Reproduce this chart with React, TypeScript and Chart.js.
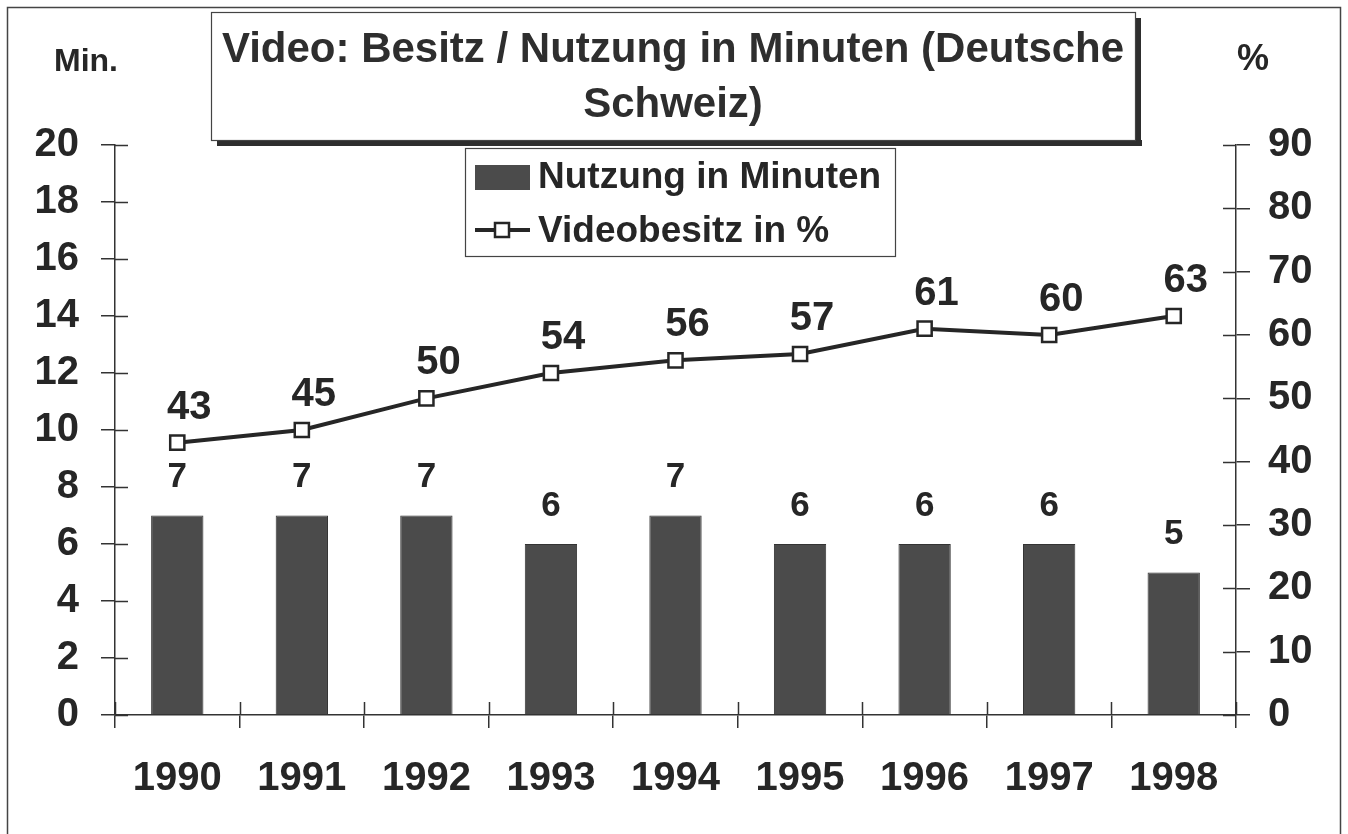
import React, { useEffect, useRef } from 'react';
import { Chart, registerables } from 'chart.js';

Chart.register(...registerables);

// ---- data ----
const years = ['1990', '1991', '1992', '1993', '1994', '1995', '1996', '1997', '1998'];
const nutzungMinuten = [7, 7, 7, 6, 7, 6, 6, 6, 5];
const videobesitzProzent = [43, 45, 50, 54, 56, 57, 61, 60, 63];
const titleLines = ['Video: Besitz / Nutzung in Minuten (Deutsche', 'Schweiz)'];
const legendLabels = ['Nutzung in Minuten', 'Videobesitz in %'];
const leftUnit = 'Min.';
const rightUnit = '%';
const leftMax = 20;
const leftStep = 2;
const rightMax = 90;
const rightStep = 10;

const FONT = '"Liberation Sans", Arial, Helvetica, sans-serif';
const INK = '#262626';
const BAR = '#4b4b4b';

const decorPlugin = {
  id: 'decor',
  afterDraw(chart: any) {
    const ctx = chart.ctx as CanvasRenderingContext2D;
    const area = chart.chartArea;
    ctx.save();

    // outer frame
    ctx.strokeStyle = '#444';
    ctx.lineWidth = 1.5;
    ctx.beginPath();
    ctx.moveTo(7.5, 834);
    ctx.lineTo(7.5, 7.5);
    ctx.lineTo(1340.5, 7.5);
    ctx.lineTo(1340.5, 834);
    ctx.stroke();

    // inner halves of tick marks
    ctx.strokeStyle = '#333';
    ctx.lineWidth = 1.5;
    const yS = chart.scales.y;
    const y1S = chart.scales.y1;
    const xS = chart.scales.x;
    ctx.beginPath();
    yS.ticks.forEach((_t: any, i: number) => {
      const py = Math.round(yS.getPixelForTick(i)) + 0.5;
      ctx.moveTo(area.left, py);
      ctx.lineTo(area.left + 13, py);
    });
    y1S.ticks.forEach((_t: any, i: number) => {
      const py = Math.round(y1S.getPixelForTick(i)) + 0.5;
      ctx.moveTo(area.right - 13, py);
      ctx.lineTo(area.right, py);
    });
    const step = xS.getPixelForValue(1) - xS.getPixelForValue(0);
    for (let k = 0; k <= years.length; k++) {
      const px = Math.round(xS.getPixelForValue(0) - step / 2 + k * step) + 0.5;
      ctx.moveTo(px, area.bottom - 13);
      ctx.lineTo(px, area.bottom);
    }
    ctx.stroke();

    // data labels
    ctx.fillStyle = INK;
    ctx.textAlign = 'center';
    ctx.textBaseline = 'middle';
    const lineMeta = chart.getDatasetMeta(0);
    ctx.font = `bold 40px ${FONT}`;
    lineMeta.data.forEach((pt: any, i: number) => {
      ctx.fillText(String(videobesitzProzent[i]), pt.x + 12, pt.y - 35);
    });
    const barMeta = chart.getDatasetMeta(1);
    ctx.font = `bold 35px ${FONT}`;
    barMeta.data.forEach((b: any, i: number) => {
      ctx.fillText(String(nutzungMinuten[i]), b.x, b.y - 38);
    });

    // unit labels
    ctx.font = `bold 32px ${FONT}`;
    ctx.fillText(leftUnit, 86, 62);
    ctx.font = `bold 36px ${FONT}`;
    ctx.fillText(rightUnit, 1253, 60);

    // title box with shadow
    const tb = { l: 211, t: 12, r: 1135, b: 140 };
    ctx.fillStyle = '#2e2e2e';
    ctx.fillRect(tb.l + 6, tb.b, tb.r - tb.l + 1, 6);
    ctx.fillRect(tb.r, tb.t + 6, 6, tb.b - tb.t);
    ctx.fillStyle = '#fff';
    ctx.fillRect(tb.l, tb.t, tb.r - tb.l, tb.b - tb.t);
    ctx.strokeStyle = '#444';
    ctx.lineWidth = 1.2;
    ctx.strokeRect(tb.l + 0.5, tb.t + 0.5, tb.r - tb.l, tb.b - tb.t);
    ctx.fillStyle = '#2e2e2e';
    ctx.font = `bold 42px ${FONT}`;
    ctx.fillText(titleLines[0], (tb.l + tb.r) / 2, 50);
    ctx.fillText(titleLines[1], (tb.l + tb.r) / 2, 105);

    // legend box
    ctx.strokeStyle = '#444';
    ctx.lineWidth = 1.2;
    ctx.strokeRect(465.5, 148.5, 430, 108);
    ctx.fillStyle = BAR;
    ctx.fillRect(475, 165, 55, 25);
    ctx.strokeStyle = INK;
    ctx.lineWidth = 4;
    ctx.beginPath();
    ctx.moveTo(475, 230);
    ctx.lineTo(530, 230);
    ctx.stroke();
    ctx.fillStyle = '#fff';
    ctx.lineWidth = 2.5;
    ctx.fillRect(495, 223, 14, 14);
    ctx.strokeRect(495, 223, 14, 14);
    ctx.fillStyle = INK;
    ctx.textAlign = 'left';
    ctx.font = `bold 37px ${FONT}`;
    ctx.fillText(legendLabels[0], 538, 178);
    ctx.fillText(legendLabels[1], 538, 232);

    ctx.restore();
  },
};

export default function App() {
  const ref = useRef<HTMLCanvasElement | null>(null);

  useEffect(() => {
    if (!ref.current) return;
    const tickFont = { family: FONT, size: 40, weight: 'bold' as const };
    const chart = new Chart(ref.current, {
      type: 'bar',
      data: {
        labels: years,
        datasets: [
          {
            type: 'line',
            label: legendLabels[1],
            data: videobesitzProzent,
            yAxisID: 'y1',
            borderColor: INK,
            borderWidth: 4,
            pointStyle: 'rect',
            pointRadius: 10,
            pointBackgroundColor: '#fff',
            pointBorderColor: INK,
            pointBorderWidth: 2.5,
            tension: 0,
            order: 0,
          } as any,
          {
            type: 'bar',
            label: legendLabels[0],
            data: nutzungMinuten,
            yAxisID: 'y',
            backgroundColor: BAR,
            borderColor: '#333',
            borderWidth: 1,
            categoryPercentage: 1,
            barPercentage: 0.42,
            order: 1,
          } as any,
        ],
      },
      options: {
        responsive: false,
        animation: false,
        devicePixelRatio: 1,
        layout: { padding: { top: 145, left: 0, right: 0, bottom: 0 } },
        plugins: {
          legend: { display: false },
          title: { display: false },
          tooltip: { enabled: false },
        },
        scales: {
          x: {
            grid: { display: true, drawOnChartArea: false, drawTicks: true, tickLength: 13, color: '#333', lineWidth: 1.5 },
            border: { display: true, color: '#333', width: 1.5 },
            ticks: { font: tickFont, color: INK, padding: 27, maxRotation: 0, autoSkip: false },
            afterFit: (s: any) => { s.height = 119; },
          },
          y: {
            position: 'left',
            min: 0,
            max: leftMax,
            grid: { display: true, drawOnChartArea: false, drawTicks: true, tickLength: 14, color: '#333', lineWidth: 1.5 },
            border: { display: true, color: '#333', width: 1.5 },
            ticks: { stepSize: leftStep, font: tickFont, color: INK, padding: 22 },
            afterFit: (s: any) => { s.width = 115; },
          },
          y1: {
            position: 'right',
            min: 0,
            max: rightMax,
            grid: { display: true, drawOnChartArea: false, drawTicks: true, tickLength: 14, color: '#333', lineWidth: 1.5 },
            border: { display: true, color: '#333', width: 1.5 },
            ticks: { stepSize: rightStep, font: tickFont, color: INK, padding: 18 },
            afterFit: (s: any) => { s.width = 112; },
          },
        },
      },
      plugins: [decorPlugin],
    });
    return () => chart.destroy();
  }, []);

  return (
    <div style={{ position: 'absolute', left: 0, top: 0, width: 1348, height: 834, background: '#fff' }}>
      <canvas ref={ref} width={1348} height={834} style={{ display: 'block' }} />
    </div>
  );
}
